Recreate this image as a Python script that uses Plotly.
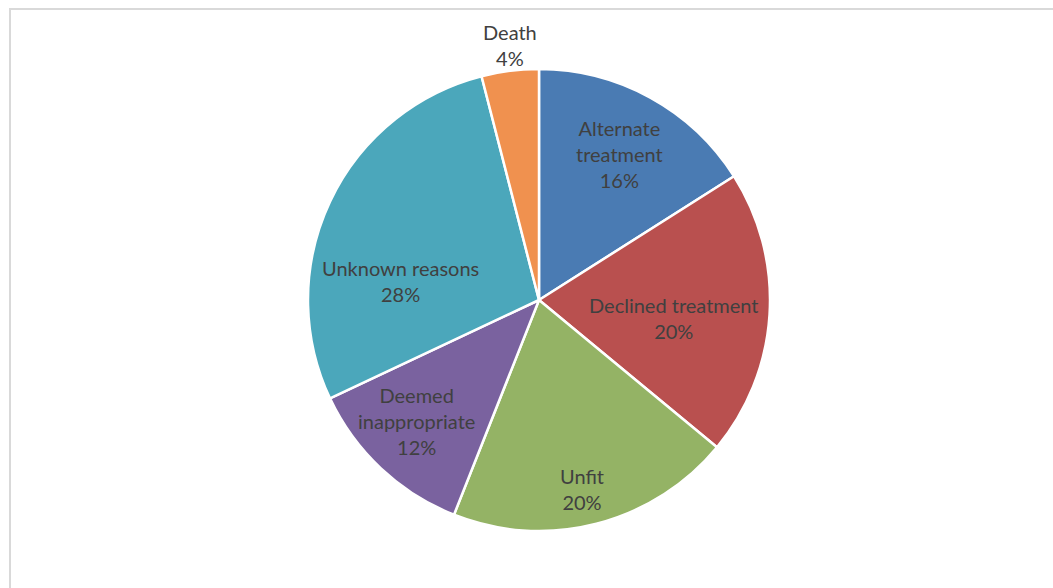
import math
import plotly.graph_objects as go

categories = ["Alternate treatment", "Declined treatment", "Unfit",
              "Deemed inappropriate", "Unknown reasons", "Death"]
values = [16, 20, 20, 12, 28, 4]
label_text = ["Alternate<br>treatment<br>16%", "Declined treatment<br>20%", "Unfit<br>20%",
              "Deemed<br>inappropriate<br>12%", "Unknown reasons<br>28%", "Death<br>4%"]
colors = ["#4A7BB3", "#B9504F", "#94B365", "#7A629F", "#4BA7BB", "#F0914F"]

# label placement style: (radius fraction, angle shift in degrees)
label_style = [(0.72, 0), (0.59, 4), (0.84, 1.5), (0.745, 2), (0.607, -17.4), (1.11, 0.7)]

W, H = 1053, 588
CX, CY, R = 539, 300, 231  # pixels (from top)

fig = go.Figure(go.Pie(
    labels=categories, values=values, sort=False, direction="clockwise", rotation=0,
    marker=dict(colors=colors, line=dict(color="white", width=2.5)),
    textinfo="none", hoverinfo="label+percent", showlegend=False,
    domain=dict(x=[(CX - R) / W, (CX + R) / W], y=[(H - CY - R) / H, (H - CY + R) / H]),
))

total = sum(values)
cum = 0
annotations = []
for txt, v, (rf, shift) in zip(label_text, values, label_style):
    mid = (cum + v / 2) / total * 360 + shift
    cum += v
    px = CX + rf * R * math.sin(math.radians(mid))
    py = CY - rf * R * math.cos(math.radians(mid))
    annotations.append(dict(x=px / W, y=1 - py / H, xref="paper", yref="paper",
                            text=txt, showarrow=False, xanchor="center", yanchor="middle",
                            font=dict(family="Lato", size=20, color="#404040")))

fig.update_layout(
    width=W, height=H, margin=dict(l=0, r=0, t=0, b=0),
    paper_bgcolor="white", plot_bgcolor="white",
    annotations=annotations,
    shapes=[dict(type="rect", xref="paper", yref="paper",
                 x0=10 / W, x1=1.02, y0=-0.02, y1=1 - 9 / H,
                 line=dict(color="#D9D9D9", width=2), fillcolor="rgba(0,0,0,0)")],
)
fig.write_html("out.html")
